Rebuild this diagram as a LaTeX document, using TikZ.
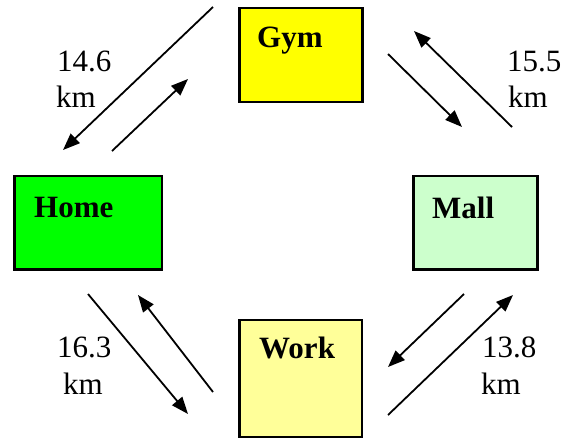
\documentclass[tikz,border=0pt]{standalone}
\usepackage{fontspec}
\setmainfont{Liberation Serif}
\usetikzlibrary{arrows.meta}
\definecolor{gymc}{HTML}{FFFF00}
\definecolor{homec}{HTML}{00FF00}
\definecolor{mallc}{HTML}{CCFFCC}
\definecolor{workc}{HTML}{FFFF99}
\tikzset{
  place/.style={draw=black, line width=2.8pt, rectangle, inner sep=0pt},
  placetext/.style={anchor=base west, inner sep=0pt, font=\fontsize{31}{35}\selectfont\bfseries},
  dist/.style={anchor=base west, inner sep=0pt, font=\fontsize{31}{35}\selectfont},
  route/.style={line width=1.8pt, -{Triangle[length=17pt,width=13pt]}}
}
\begin{document}
\begin{tikzpicture}[x=1pt,y=-1pt]
\useasboundingbox (0,0) rectangle (564,440);
% boxes
\node[place, fill=gymc, minimum width=123pt, minimum height=94pt] (gym) at (301,55) {};
\node[place, fill=homec, minimum width=147.5pt, minimum height=93.5pt] (home) at (88.25,222.75) {};
\node[place, fill=mallc, minimum width=124pt, minimum height=93.5pt] (mall) at (475.5,222.75) {};
\node[place, fill=workc, minimum width=122.5pt, minimum height=117pt] (work) at (300.75,378.5) {};
% box texts
\node[placetext] (gymt) at (257,47) {Gym};
\node[placetext] (homet) at (34,217) {Home};
\node[placetext] (mallt) at (432,218) {Mall};
\node[placetext] (workt) at (259,358) {Work};
% distance labels
\node[dist] (d1a) at (57,71) {14.6};
\node[dist] (d1b) at (56,107) {km};
\node[dist] (d2a) at (507,71) {15.5};
\node[dist] (d2b) at (508,107) {km};
\node[dist] (d3a) at (57,357) {16.3};
\node[dist] (d3b) at (63,394) {km};
\node[dist] (d4a) at (482,357) {13.8};
\node[dist] (d4b) at (481,394) {km};
% arrow end points
\coordinate (a1s) at (213,7);   \coordinate (a1e) at (63,150);
\coordinate (a2s) at (112,151); \coordinate (a2e) at (188,79);
\coordinate (a3s) at (388,54);  \coordinate (a3e) at (462,127);
\coordinate (a4s) at (512,127); \coordinate (a4e) at (414,31);
\coordinate (a5s) at (88,294);  \coordinate (a5e) at (188,414);
\coordinate (a6s) at (213,392); \coordinate (a6e) at (138,295);
\coordinate (a7s) at (464,294); \coordinate (a7e) at (388,367);
\coordinate (a8s) at (388,415); \coordinate (a8e) at (513,295);
\draw[route] (a1s) -- (a1e);
\draw[route] (a2s) -- (a2e);
\draw[route] (a3s) -- (a3e);
\draw[route] (a4s) -- (a4e);
\draw[route] (a5s) -- (a5e);
\draw[route] (a6s) -- (a6e);
\draw[route] (a7s) -- (a7e);
\draw[route] (a8s) -- (a8e);
\end{tikzpicture}
\end{document}
